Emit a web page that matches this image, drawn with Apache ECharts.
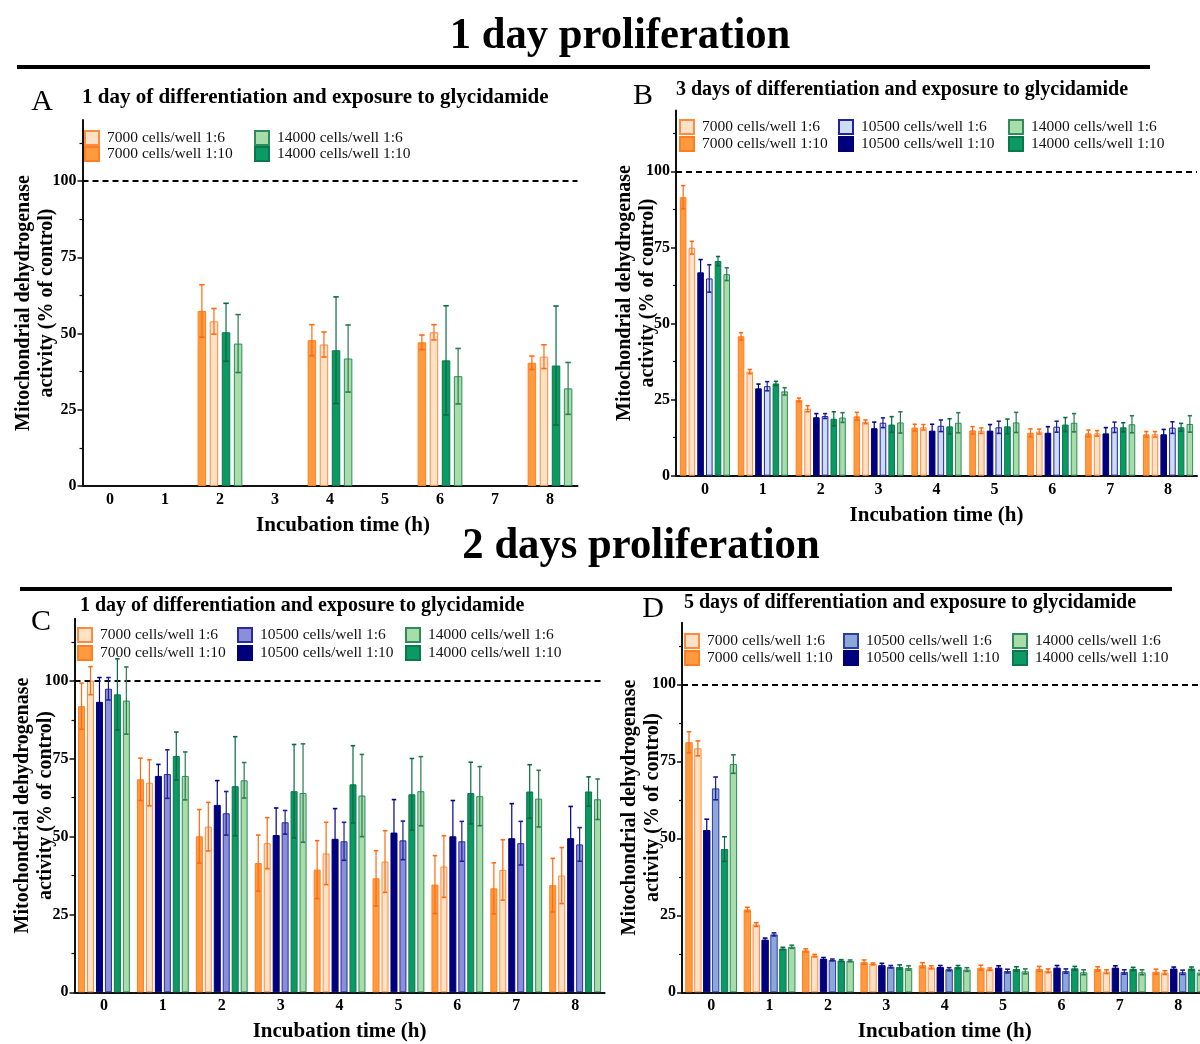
<!DOCTYPE html>
<html>
<head>
<meta charset="utf-8">
<script src="https://cdn.jsdelivr.net/npm/echarts@6/dist/echarts.min.js"></script>
<style>
  html, body { margin: 0; padding: 0; background: #fff; }
  #chart { width: 1200px; height: 1044px; }
</style>
</head>
<body>
<div id="chart"></div>
<script>
const FONT = '"Liberation Serif", "Times New Roman", serif';

// Shared axes
const hours = ['0', '1', '2', '3', '4', '5', '6', '7', '8'];
const yTickValues = [0, 25, 50, 75, 100];
const yMinorTickValues = [12.5, 37.5, 62.5, 87.5, 112.5];

const seriesLabels = {
  o6: '7000 cells/well 1:6',
  o10: '7000 cells/well 1:10',
  b6: '10500 cells/well 1:6',
  b10: '10500 cells/well 1:10',
  g6: '14000 cells/well 1:6',
  g10: '14000 cells/well 1:10'
};

// A: 1 day proliferation, 1 day of differentiation (mean, SD; % of control)
const A_7000_110 = [null, null, 57.4, null, 47.8, null, 47.1, null, 40.4];
const A_7000_110_sd = [null, null, 8.6, null, 5.1, null, 2.4, null, 2.2];
const A_7000_16 = [null, null, 54.0, null, 46.4, null, 50.4, null, 42.4];
const A_7000_16_sd = [null, null, 4.2, null, 4.1, null, 2.5, null, 3.9];
const A_14000_110 = [null, null, 50.4, null, 44.5, null, 41.2, null, 39.5];
const A_14000_110_sd = [null, null, 9.5, null, 17.5, null, 17.9, null, 19.5];
const A_14000_16 = [null, null, 46.7, null, 41.8, null, 36.0, null, 32.0];
const A_14000_16_sd = [null, null, 9.5, null, 11.0, null, 9.1, null, 8.5];

// B: 1 day proliferation, 3 days of differentiation
const B_7000_110 = [91.5, 45.8, 24.9, 19.5, 15.8, 14.9, 14.1, 13.9, 13.6];
const B_7000_110_sd = [3.8, 1.2, 0.6, 1.3, 1.1, 1.2, 1.3, 1.1, 0.9];
const B_7000_16 = [74.9, 34.2, 22.0, 17.7, 15.9, 14.8, 14.5, 13.9, 13.6];
const B_7000_16_sd = [2.1, 0.7, 1.0, 0.6, 0.9, 0.9, 0.8, 0.9, 0.9];
const B_10500_110 = [66.8, 28.7, 19.2, 15.6, 14.8, 14.8, 14.1, 13.9, 13.6];
const B_10500_110_sd = [4.2, 1.4, 1.2, 2.0, 2.1, 2.0, 2.0, 1.9, 1.6];
const B_10500_16 = [64.8, 29.4, 19.6, 17.4, 16.4, 15.9, 16.1, 15.9, 15.8];
const B_10500_16_sd = [4.5, 1.5, 0.8, 1.6, 1.9, 2.0, 1.8, 1.7, 1.9];
const B_14000_110 = [70.5, 30.3, 18.7, 16.8, 16.2, 16.2, 16.8, 15.9, 15.9];
const B_14000_110_sd = [1.5, 0.7, 2.3, 2.6, 2.5, 2.4, 2.3, 1.5, 1.3];
const B_14000_16 = [66.2, 27.7, 19.1, 17.5, 17.4, 17.5, 17.4, 16.9, 17.0];
const B_14000_16_sd = [2.1, 1.2, 1.6, 3.5, 3.3, 3.3, 3.0, 2.8, 2.7];

// C: 2 days proliferation, 1 day of differentiation
const C_7000_110 = [91.9, 68.4, 50.1, 41.5, 39.4, 36.6, 34.6, 33.4, 34.4];
const C_7000_110_sd = [7.4, 6.8, 8.6, 9.0, 9.3, 8.9, 9.3, 8.2, 8.6];
const C_7000_16 = [100.1, 67.3, 53.2, 47.9, 44.6, 42.0, 40.4, 39.3, 37.5];
const C_7000_16_sd = [4.5, 7.4, 7.8, 8.2, 10.0, 9.9, 9.9, 9.7, 9.0];
const C_10500_110 = [93.3, 69.5, 60.2, 50.5, 49.3, 51.3, 50.1, 49.5, 49.5];
const C_10500_110_sd = [7.8, 3.7, 7.8, 8.7, 9.7, 10.6, 11.5, 11.1, 10.2];
const C_10500_16 = [97.5, 70.1, 57.5, 54.6, 48.5, 48.8, 48.5, 47.9, 47.5];
const C_10500_16_sd = [3.6, 7.8, 7.0, 3.8, 6.1, 6.2, 6.4, 7.0, 5.4];
const C_14000_110 = [95.7, 75.9, 66.2, 64.6, 66.8, 63.6, 64.0, 64.5, 64.5];
const C_14000_110_sd = [11.4, 7.7, 15.9, 15.0, 12.4, 11.5, 9.9, 8.6, 4.7];
const C_14000_16 = [93.7, 69.5, 68.1, 64.0, 63.2, 64.6, 63.0, 62.2, 62.0];
const C_14000_16_sd = [10.8, 7.7, 5.7, 15.8, 13.2, 11.1, 9.5, 9.1, 6.5];

// D: 2 days proliferation, 5 days of differentiation
const D_7000_110 = [81.2, 26.9, 13.6, 9.8, 8.8, 8.0, 7.6, 7.6, 6.7];
const D_7000_110_sd = [3.4, 0.7, 0.5, 0.7, 0.8, 0.8, 0.8, 0.7, 0.8];
const D_7000_16 = [79.2, 22.0, 11.9, 9.2, 8.1, 7.5, 7.0, 6.7, 6.4];
const D_7000_16_sd = [2.4, 0.6, 0.4, 0.3, 0.5, 0.4, 0.6, 0.6, 0.6];
const D_10500_110 = [52.7, 17.1, 10.9, 8.8, 8.2, 8.0, 8.0, 8.0, 7.7];
const D_10500_110_sd = [3.5, 0.5, 0.4, 0.6, 0.5, 0.6, 0.7, 0.6, 0.5];
const D_10500_16 = [66.2, 18.8, 10.5, 8.3, 7.5, 6.9, 6.9, 6.6, 6.5];
const D_10500_16_sd = [3.7, 0.5, 0.3, 0.4, 0.5, 0.6, 0.7, 0.7, 0.7];
const D_14000_110 = [46.5, 14.2, 10.3, 8.2, 8.2, 7.6, 7.8, 7.6, 7.7];
const D_14000_110_sd = [4.0, 0.4, 0.3, 0.7, 0.5, 0.7, 0.6, 0.5, 0.5];
const D_14000_16 = [74.1, 14.8, 10.2, 7.9, 7.4, 6.8, 6.5, 6.5, 6.4];
const D_14000_16_sd = [3.0, 0.5, 0.3, 0.7, 0.6, 0.8, 0.8, 0.8, 0.7];

// Bar palette
const COLORS = {
  o10: { fill: '#FF9B3E', border: '#FF7E22', err: '#FF6A10' },
  o6:  { fill: '#FFE1C6', border: '#FF8A40', err: '#FF6A10' },
  b10: { fill: '#00007E', border: '#000070', err: '#00008C' },
  g10: { fill: '#0B9964', border: '#0A774C', err: '#086A44' },
  g6:  { fill: '#A8DCA8', border: '#2F8B5C', err: '#2A7A52' }
};
const LIGHT_BLUE = {
  B: { fill: '#CCDDF7', border: '#23239E', err: '#1E1E96' },
  C: { fill: '#8A8FD7', border: '#2A2AA0', err: '#1E1E96' },
  D: { fill: '#8CA7D9', border: '#2D3C9E', err: '#1E1E96' }
};

const PANELS = [
  {
    key: 'A', title: '1 day of differentiation and exposure to glycidamide', titleSize: 21,
    grid: { left: 82.5, right: 622.5, top: 120, bottom: 558 },
    barWidth: 8.5, barGap: 0.42, yNameGap: 24, xNamePad: 26, legendGap: 0,
    series: [
      ['o10', A_7000_110, A_7000_110_sd], ['o6', A_7000_16, A_7000_16_sd],
      ['g10', A_14000_110, A_14000_110_sd], ['g6', A_14000_16, A_14000_16_sd]
    ],
    legend: [[84, 137, ['o6', 'o10']], [254, 137, ['g6', 'g10']]],
    letter: [42, 102], titlePos: [82, 98]
  },
  {
    key: 'B', title: '3 days of differentiation and exposure to glycidamide', titleSize: 20,
    grid: { left: 676, right: 3, top: 110.4, bottom: 568.3 },
    barWidth: 6.6, barGap: 0.32, yNameGap: 17, xNamePad: 0, legendGap: 1,
    series: [
      ['o10', B_7000_110, B_7000_110_sd], ['o6', B_7000_16, B_7000_16_sd],
      ['b10', B_10500_110, B_10500_110_sd], ['b6', B_10500_16, B_10500_16_sd],
      ['g10', B_14000_110, B_14000_110_sd], ['g6', B_14000_16, B_14000_16_sd]
    ],
    legend: [[679, 126, ['o6', 'o10']], [838, 126, ['b6', 'b10']], [1008, 126, ['g6', 'g10']]],
    letter: [643, 96], titlePos: [676, 90]
  },
  {
    key: 'C', title: '1 day of differentiation and exposure to glycidamide', titleSize: 20,
    grid: { left: 74.5, right: 595.4, top: 618.7, bottom: 51.7 },
    barWidth: 7, barGap: 0.28, yNameGap: 17, xNamePad: 0, legendGap: 2,
    series: [
      ['o10', C_7000_110, C_7000_110_sd], ['o6', C_7000_16, C_7000_16_sd],
      ['b10', C_10500_110, C_10500_110_sd], ['b6', C_10500_16, C_10500_16_sd],
      ['g10', C_14000_110, C_14000_110_sd], ['g6', C_14000_16, C_14000_16_sd]
    ],
    legend: [[77, 634, ['o6', 'o10']], [237, 634, ['b6', 'b10']], [405, 634, ['g6', 'g10']]],
    letter: [41, 622], titlePos: [80, 606]
  },
  {
    key: 'D', title: '5 days of differentiation and exposure to glycidamide', titleSize: 20,
    grid: { left: 682, right: -7.4, top: 622.7, bottom: 51.7 },
    barWidth: 7.4, barGap: 0.2, yNameGap: 18, xNamePad: 0, legendGap: 1,
    series: [
      ['o10', D_7000_110, D_7000_110_sd], ['o6', D_7000_16, D_7000_16_sd],
      ['b10', D_10500_110, D_10500_110_sd], ['b6', D_10500_16, D_10500_16_sd],
      ['g10', D_14000_110, D_14000_110_sd], ['g6', D_14000_16, D_14000_16_sd]
    ],
    legend: [[684, 640, ['o6', 'o10']], [843, 640, ['b6', 'b10']], [1012, 640, ['g6', 'g10']]],
    letter: [653, 609], titlePos: [684, 603]
  }
];

function colorFor(panelKey, id) {
  return id === 'b6' ? LIGHT_BLUE[panelKey] : COLORS[id];
}

function errorBarSeries(pi, offset, capHalf, color, mean, sd) {
  const data = [];
  mean.forEach((m, i) => { if (m != null && sd[i] != null) data.push([i, m, sd[i]]); });
  return {
    type: 'custom', xAxisIndex: pi, yAxisIndex: pi * 2, z: 5, silent: true,
    data: data, encode: { x: 0, y: 1 },
    renderItem: function (params, api) {
      const x = api.value(0), m = api.value(1), e = api.value(2);
      const hi = api.coord([x, m + e]);
      const lo = api.coord([x, m - e]);
      const cx = hi[0] + offset;
      return {
        type: 'group',
        children: [
          { type: 'line', shape: { x1: cx, y1: hi[1], x2: cx, y2: lo[1] }, style: { stroke: color, lineWidth: 1.2 } },
          { type: 'line', shape: { x1: cx - capHalf, y1: hi[1], x2: cx + capHalf, y2: hi[1] }, style: { stroke: color, lineWidth: 1.6 } },
          { type: 'line', shape: { x1: cx - capHalf, y1: lo[1], x2: cx + capHalf, y2: lo[1] }, style: { stroke: color, lineWidth: 1.6 } }
        ]
      };
    }
  };
}

const grids = [], xAxes = [], yAxes = [], series = [], legends = [], graphics = [];

PANELS.forEach((p, pi) => {
  grids.push(Object.assign({ outerBoundsMode: 'none', containLabel: false }, p.grid));

  xAxes.push({
    type: 'category', gridIndex: pi, data: hours,
    axisLine: { lineStyle: { color: '#111', width: 2 } },
    axisTick: { alignWithLabel: true, length: 5, lineStyle: { color: '#111', width: 1.5 } },
    axisLabel: { fontFamily: FONT, fontWeight: 'bold', fontSize: 16, color: '#000', margin: 6 },
    name: 'Incubation time (h)', nameLocation: 'middle', nameGap: 29,
    nameMoveOverlap: false,
    nameTextStyle: { fontFamily: FONT, fontWeight: 'bold', fontSize: 21, color: '#000', padding: [0, 0, 0, p.xNamePad] }
  });

  yAxes.push({
    type: 'value', gridIndex: pi, min: 0, max: 120, position: 'left',
    axisLine: { show: true, lineStyle: { color: '#111', width: 2 } },
    axisTick: { show: true, customValues: yTickValues, length: 5, lineStyle: { color: '#111', width: 1.5 } },
    axisLabel: { customValues: yTickValues, fontFamily: FONT, fontWeight: 'bold', fontSize: 16, color: '#000', margin: 6 },
    splitLine: { show: false },
    name: 'Mitochondrial dehydrogenase\nactivity (% of control)',
    nameLocation: 'middle', nameGap: p.yNameGap, nameMoveOverlap: false,
    nameTextStyle: { fontFamily: FONT, fontWeight: 'bold', fontSize: 20, lineHeight: 23, color: '#000' }
  });
  yAxes.push({
    type: 'value', gridIndex: pi, min: 0, max: 120, position: 'left', offset: 0,
    axisLine: { show: false },
    axisTick: { show: true, customValues: yMinorTickValues, length: 3, lineStyle: { color: '#111', width: 1.2 } },
    axisLabel: { show: false },
    splitLine: { show: false }
  });

  const n = p.series.length;
  const w = p.barWidth, pitch = w * (1 + p.barGap);
  const groupWidth = n * w + (n - 1) * w * p.barGap;

  p.series.forEach(([id, mean, sd], k) => {
    const c = colorFor(p.key, id);
    const s = {
      type: 'bar', name: p.key + '|' + seriesLabels[id],
      xAxisIndex: pi, yAxisIndex: pi * 2,
      data: mean, barWidth: w, barGap: (p.barGap * 100) + '%',
      itemStyle: { color: c.fill, borderColor: c.border, borderWidth: 1 },
      emphasis: { disabled: true }
    };
    if (k === 0) {
      s.markLine = {
        silent: true, symbol: ['none', 'none'], label: { show: false },
        lineStyle: { type: [6, 4], color: '#000', width: 2 },
        data: [{ yAxis: 100 }]
      };
    }
    series.push(s);
    const offset = -groupWidth / 2 + w / 2 + k * pitch;
    series.push(errorBarSeries(pi, offset, w * 0.32, c.err, mean, sd));
  });

  p.legend.forEach(([lx, ly, ids]) => {
    legends.push({
      orient: 'vertical', left: lx - 5, top: ly - 12,
      itemWidth: 14, itemHeight: 14, itemGap: p.legendGap, icon: 'rect',
      selectedMode: false,
      data: ids.map(id => p.key + '|' + seriesLabels[id]),
      formatter: name => name.split('|')[1],
      textStyle: { fontFamily: FONT, fontSize: 15.5, color: '#111', lineHeight: 15, padding: [0, 0, 0, 3] }
    });
  });

  graphics.push({
    type: 'text', x: p.letter[0], y: p.letter[1],
    style: { text: p.key, font: '30px ' + FONT, fill: '#000', textAlign: 'center', textVerticalAlign: 'middle' }
  });
  graphics.push({
    type: 'text', x: p.titlePos[0], y: p.titlePos[1],
    style: { text: p.title, font: 'bold ' + p.titleSize + 'px ' + FONT, fill: '#000', textAlign: 'left', textVerticalAlign: 'middle' }
  });
});

// Section headings and rules
graphics.push(
  { type: 'text', x: 620, y: 37, scaleX: 0.97,
    style: { text: '1 day proliferation', font: 'bold 44px ' + FONT, fill: '#000', textAlign: 'center', textVerticalAlign: 'middle' } },
  { type: 'rect', shape: { x: 17, y: 65, width: 1133, height: 4 }, style: { fill: '#000' } },
  { type: 'text', x: 641, y: 547, scaleX: 0.97,
    style: { text: '2 days proliferation', font: 'bold 44px ' + FONT, fill: '#000', textAlign: 'center', textVerticalAlign: 'middle' } },
  { type: 'rect', shape: { x: 20, y: 587, width: 1152, height: 4 }, style: { fill: '#000' } }
);

const chart = echarts.init(document.getElementById('chart'), null, { renderer: 'canvas' });
chart.setOption({
  animation: false,
  backgroundColor: '#fff',
  grid: grids,
  xAxis: xAxes,
  yAxis: yAxes,
  legend: legends,
  series: series,
  graphic: graphics
});
</script>
</body>
</html>
